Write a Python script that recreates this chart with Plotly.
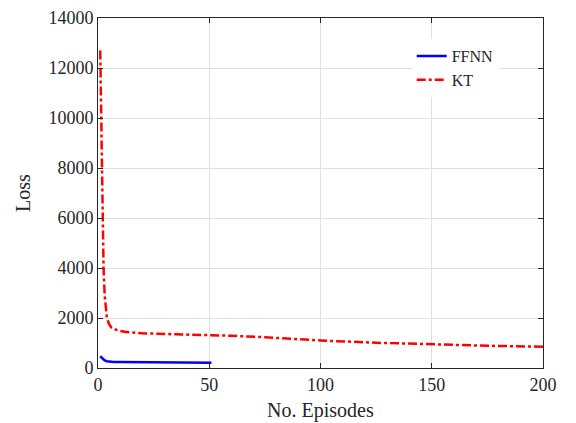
import plotly.graph_objects as go

kt_x = [1, 1.5, 2, 2.5, 3, 3.5, 4, 5, 6, 7, 8, 10, 12, 15, 20, 30, 40, 50, 60, 75, 100, 125, 150, 175, 200]
kt_y = [12700, 9000, 6000, 4000, 2900, 2300, 2000, 1750, 1620, 1560, 1530, 1480, 1450, 1420, 1390, 1360, 1340, 1320, 1290, 1230, 1100, 1010, 940, 890, 850]
ff_x = [1, 2, 3, 4, 5, 7, 10, 20, 30, 40, 51]
ff_y = [470, 380, 300, 270, 255, 245, 240, 230, 225, 220, 215]

x_ticks = [0, 50, 100, 150, 200]
y_ticks = [0, 2000, 4000, 6000, 8000, 10000, 12000, 14000]
y_labels = ["0", "2000", "4000", "6000", "8000", "10000", "12000", "14000"]
x_title = "No. Episodes"
y_title = "Loss"

font = "Liberation Serif"

fig = go.Figure()
fig.add_trace(go.Scatter(x=ff_x, y=ff_y, mode="lines", name="FFNN",
                         line=dict(color="#0000ff", width=2.5)))
fig.add_trace(go.Scatter(x=kt_x, y=kt_y, mode="lines", name="KT",
                         line=dict(color="#ff0000", width=2.5, dash="dashdot")))

axis_common = dict(showline=True, linecolor="#262626", linewidth=1, mirror="ticks",
                   ticks="inside", ticklen=5, tickcolor="#262626",
                   showgrid=True, gridcolor="#e0e0e0", gridwidth=1, zeroline=False,
                   automargin=False,
                   tickfont=dict(family=font, size=18, color="#262626"))

fig.update_layout(
    width=576, height=423,
    margin=dict(l=98, r=33, t=18, b=55),
    paper_bgcolor="white", plot_bgcolor="white",
    font=dict(family=font, color="#262626"),
    xaxis=dict(range=[0, 200], tickvals=x_ticks, **axis_common),
    yaxis=dict(range=[0, 14000], tickvals=y_ticks, ticktext=y_labels,
               title=dict(text=y_title, font=dict(family=font, size=20), standoff=12),
               **axis_common),
    legend=dict(x=0.705, y=0.94, xanchor="left", yanchor="top",
                bgcolor="white", borderwidth=0,
                font=dict(family=font, size=16, color="#262626"),
                tracegroupgap=0),
    showlegend=True,
)
fig.add_annotation(text=x_title, xref="paper", yref="paper", x=0.5, y=-0.12,
                   xanchor="center", yanchor="middle", showarrow=False,
                   font=dict(family=font, size=20, color="#262626"))

fig.write_html("out.html", config={"displayModeBar": False},
               post_script="document.body.style.margin='0';document.body.style.overflow='hidden';")
